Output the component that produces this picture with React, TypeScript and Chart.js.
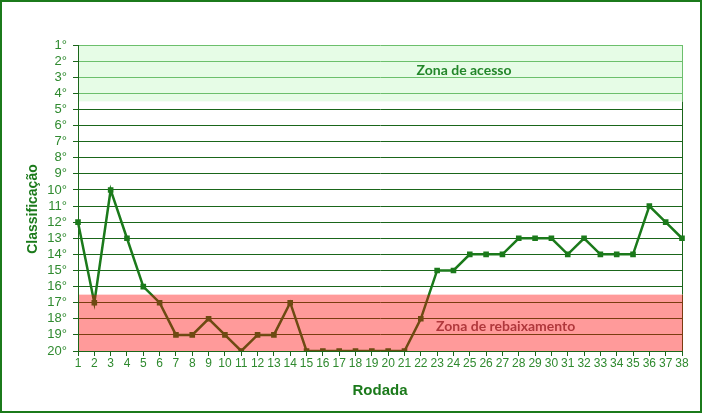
import React, { useEffect, useRef } from "react";
import { Chart, registerables } from "chart.js";

Chart.register(...registerables);

const rounds: string[] = Array.from({ length: 38 }, (_, i) => String(i + 1));
const positions: number[] = [
  12, 17, 10, 13, 16, 17, 19, 19, 18, 19,
  20, 19, 19, 17, 20, 20, 20, 20, 20, 20,
  20, 18, 15, 15, 14, 14, 14, 13, 13, 13,
  14, 13, 14, 14, 14, 11, 12, 13,
];
const accessZone: number[] = [1, 4.5];
const relegationZone: number[] = [16.5, 20];
const accessLabel = "Zona de acesso";
const relegationLabel = "Zona de rebaixamento";
const yTitle = "Classificação";

const GREEN = "#1b7a1b";
const DARK_GRID = "#1a661a";
const LIGHT_GRID = "#6cbf6c";
const BROWN_GRID = "#7a3c10";
const LINE_BROWN = "#6e4a12";
const TICK_COLOR = "#2f8a2f";

const zonesPlugin = {
  id: "zones",
  beforeDraw(chart: any) {
    const { ctx, chartArea, scales } = chart;
    const y = scales.y;
    ctx.save();
    const gTop = y.getPixelForValue(accessZone[0]);
    const gBot = y.getPixelForValue(accessZone[1]);
    ctx.fillStyle = "#e6fce6";
    ctx.fillRect(chartArea.left, gTop, chartArea.right - chartArea.left, gBot - gTop);
    const rTop = y.getPixelForValue(relegationZone[0]);
    const rBot = y.getPixelForValue(relegationZone[1]);
    ctx.fillStyle = "#ff9a9a";
    ctx.fillRect(chartArea.left, rTop, chartArea.right - chartArea.left, rBot - rTop);
    ctx.restore();
  },
  beforeDatasetsDraw(chart: any) {
    const { ctx, chartArea, scales } = chart;
    const x = scales.x;
    const y = scales.y;
    ctx.save();
    ctx.lineWidth = 1;
    const seg = (c: string, a: number, b: number) => {
      ctx.strokeStyle = c;
      ctx.beginPath();
      ctx.moveTo(chartArea.right + 0.5, y.getPixelForValue(a));
      ctx.lineTo(chartArea.right + 0.5, y.getPixelForValue(b));
      ctx.stroke();
    };
    seg(DARK_GRID, accessZone[1], relegationZone[0]);
    seg(LIGHT_GRID, accessZone[0], accessZone[1]);
    seg(BROWN_GRID, relegationZone[0], relegationZone[1]);
    ctx.font = "bold 14px Lato, 'Open Sans', sans-serif";
    ctx.textAlign = "center";
    ctx.textBaseline = "middle";
    ctx.fillStyle = "#23862a";
    ctx.fillText(accessLabel, x.getPixelForValue(23.65), y.getPixelForValue(2.6));
    ctx.fillStyle = "#b0383c";
    ctx.fillText(relegationLabel, x.getPixelForValue(26.2), y.getPixelForValue(18.5));
    ctx.restore();
  },
  afterDraw(chart: any) {
    const { ctx, width, height } = chart;
    ctx.save();
    ctx.translate(33, 209);
    ctx.rotate(-Math.PI / 2);
    ctx.font = "bold 14px 'Liberation Sans', Arial, sans-serif";
    ctx.textAlign = "center";
    ctx.textBaseline = "middle";
    ctx.fillStyle = GREEN;
    ctx.fillText(yTitle, 0, 0);
    ctx.restore();
    ctx.save();
    ctx.strokeStyle = GREEN;
    ctx.lineWidth = 2;
    ctx.strokeRect(1, 1, width - 3, height - 3);
    ctx.restore();
  },
};

export default function App() {
  const canvasRef = useRef<HTMLCanvasElement | null>(null);

  useEffect(() => {
    const canvas = canvasRef.current;
    if (!canvas) return;
    Chart.defaults.font.family = "'Liberation Sans', Arial, sans-serif";
    const chart = new Chart(canvas, {
      type: "line",
      data: {
        labels: rounds,
        datasets: [
          {
            data: positions,
            borderWidth: 2.5,
            tension: 0,
            pointStyle: "rect",
            pointRadius: 2.2,
            pointHoverRadius: 2.2,
            borderColor: (context: any) => {
              const { chart } = context;
              const { chartArea, scales } = chart;
              if (!chartArea || !scales.y) return GREEN;
              const g = chart.ctx.createLinearGradient(0, chartArea.top, 0, chartArea.bottom);
              const cut =
                (scales.y.getPixelForValue(relegationZone[0]) - chartArea.top) /
                (chartArea.bottom - chartArea.top);
              g.addColorStop(0, GREEN);
              g.addColorStop(cut, GREEN);
              g.addColorStop(cut, LINE_BROWN);
              g.addColorStop(1, LINE_BROWN);
              return g;
            },
            pointBackgroundColor: (c: any) =>
              c.raw > relegationZone[0] ? LINE_BROWN : GREEN,
            pointBorderColor: (c: any) =>
              c.raw > relegationZone[0] ? LINE_BROWN : GREEN,
            fill: false,
          },
        ],
      },
      options: {
        responsive: false,
        animation: false,
        devicePixelRatio: 1,
        layout: { padding: { left: 0, top: 45, right: 21, bottom: 0 } },
        plugins: {
          legend: { display: false },
          tooltip: { enabled: false },
        },
        scales: {
          x: {
            type: "category",
            offset: false,
            afterFit: (s: any) => {
              s.height = 63;
            },
            grid: {
              drawOnChartArea: false,
              tickLength: 5,
              tickColor: DARK_GRID,
              color: DARK_GRID,
            },
            border: { color: DARK_GRID, width: 1 },
            ticks: {
              autoSkip: false,
              maxRotation: 0,
              padding: 0,
              color: TICK_COLOR,
              font: { size: 12 },
            },
            title: {
              display: true,
              text: "Rodada",
              color: GREEN,
              font: { size: 15, weight: "bold" },
              padding: { top: 0, bottom: 14 },
            },
          },
          y: {
            type: "linear",
            reverse: true,
            min: 1,
            max: 20,
            afterFit: (s: any) => {
              s.width = 78;
            },
            grid: {
              tickLength: 5,
              tickColor: DARK_GRID,
              color: (c: any) => {
                const v = c.tick ? c.tick.value : 0;
                if (v <= accessZone[1]) return LIGHT_GRID;
                if (v >= relegationZone[0]) return BROWN_GRID;
                return DARK_GRID;
              },
            },
            border: { color: DARK_GRID, width: 1 },
            ticks: {
              stepSize: 1,
              autoSkip: false,
              padding: 6,
              color: TICK_COLOR,
              font: { size: 13 },
              callback: (v: any) => `${v}°`,
            },
            title: { display: false },
          },
        },
      },
      plugins: [zonesPlugin],
    });
    return () => chart.destroy();
  }, []);

  return (
    <div style={{ position: "fixed", left: 0, top: 0, width: 703, height: 414, background: "#fff" }}>
      <canvas ref={canvasRef} width={703} height={414} style={{ display: "block" }} />
    </div>
  );
}
